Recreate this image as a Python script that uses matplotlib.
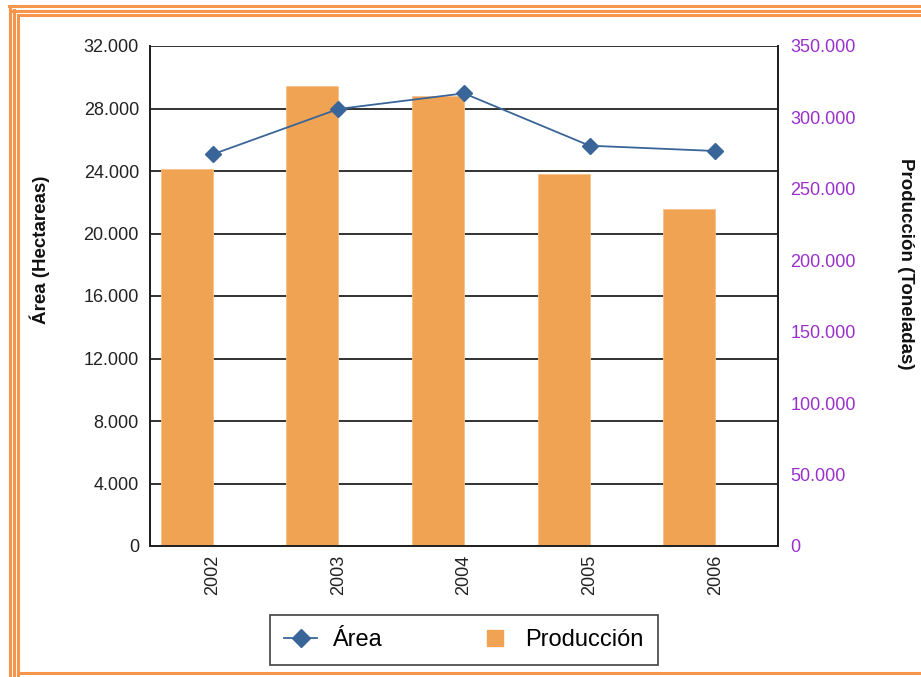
import matplotlib
matplotlib.use("Agg")
import matplotlib.pyplot as plt
from matplotlib.ticker import FuncFormatter, MultipleLocator
from matplotlib.lines import Line2D

# Data
years = ["2002", "2003", "2004", "2005", "2006"]
area_ha = [25070, 27970, 28970, 25620, 25280]
produccion_t = [264000, 322000, 315000, 260500, 236000]

W, H = 921, 677
DPI = 100
fig = plt.figure(figsize=(W / DPI, H / DPI), dpi=DPI)
plt.rcParams["font.family"] = ["Liberation Sans", "DejaVu Sans"]

BAR_COLOR = "#F0A352"
LINE_COLOR = "#3A6598"
RIGHT_COLOR = "#9A30CC"
FRAME_COLOR = "#F7964A"


def px(x, y):
    return x / W, 1 - y / H


left, top, right, bottom = 150, 46, 778, 546
ax = fig.add_axes([left / W, 1 - bottom / H, (right - left) / W, (bottom - top) / H])
ax2 = ax.twinx()

x = list(range(len(years)))
bw = 0.414

# Gridlines on the left (Área) scale, behind the bars
ax.set_ylim(0, 32000)
ax.yaxis.set_major_locator(MultipleLocator(4000))
ax.grid(axis="y", color="#222222", linewidth=1.3)
ax.set_axisbelow(True)
ax.set_xlim(-0.5, len(years) - 0.5)

# Production bars on the right scale
ax2.bar([i - bw / 2 for i in x], produccion_t, width=bw, color=BAR_COLOR,
        edgecolor="#F6C08A", linewidth=0.6, zorder=2)
ax2.set_ylim(0, 350000)
ax2.yaxis.set_major_locator(MultipleLocator(50000))

# Area line drawn above the bars, in the left-axis data coordinates
ax2.plot(x, area_ha, color=LINE_COLOR, linewidth=1.3, marker="D", markersize=8,
         markeredgecolor=LINE_COLOR, transform=ax.transData, zorder=3)
ax2.set_xlim(-0.5, len(years) - 0.5)

thousands = FuncFormatter(lambda v, p: f"{v:,.0f}".replace(",", "."))
ax.yaxis.set_major_formatter(thousands)
ax2.yaxis.set_major_formatter(thousands)

ax.set_xticks(x)
ax.set_xticklabels(years, rotation=90, fontsize=13, color="#222222")
ax.tick_params(axis="x", length=0, pad=6)
ax.tick_params(axis="y", length=0, pad=8, labelsize=13, labelcolor="#222222")
ax2.tick_params(axis="y", length=0, pad=9, labelsize=13, labelcolor=RIGHT_COLOR)

for a in (ax, ax2):
    for s in a.spines.values():
        s.set_color("#222222")
        s.set_linewidth(1.4)
    a.spines["top"].set_visible(False)

fig.text(*px(40, 250), "Área (Hectareas)", rotation=90, ha="center", va="center",
         fontsize=13.5, fontweight="bold", color="#111111")
fig.text(*px(905, 264), "Producción (Toneladas)", rotation=-90, ha="center", va="center",
         fontsize=13.5, fontweight="bold", color="#111111")

handles = [
    Line2D([0], [0], color=LINE_COLOR, linewidth=1.3, marker="D", markersize=9),
    Line2D([0], [0], linestyle="none", marker="s", markersize=12,
           markerfacecolor=BAR_COLOR, markeredgecolor=BAR_COLOR),
]
leg = fig.legend(handles, ["Área", "Producción"], loc="center",
                 bbox_to_anchor=px(464, 640), ncol=2, fontsize=17, frameon=True,
                 fancybox=False, edgecolor="#111111", columnspacing=4.1,
                 handlelength=1.4, handletextpad=0.6, borderpad=0.6,
                 borderaxespad=0)
leg.get_frame().set_linewidth(1.2)

# Orange page frame
def hline(y, x0, x1, lw=2.2):
    fig.add_artist(Line2D([x0 / W, x1 / W], [1 - y / H, 1 - y / H],
                          color=FRAME_COLOR, linewidth=lw, transform=fig.transFigure))


def vline(xp, y0, y1, lw=2.2):
    fig.add_artist(Line2D([xp / W, xp / W], [1 - y0 / H, 1 - y1 / H],
                          color=FRAME_COLOR, linewidth=lw, transform=fig.transFigure))


hline(6, 9, W)
hline(10.5, 13, W)
hline(15, 18, W)
vline(9.5, 6, H)
vline(13.5, 10, H)
vline(18, 15, H)
hline(673, 18, W)

fig.savefig("out.png", dpi=DPI)
